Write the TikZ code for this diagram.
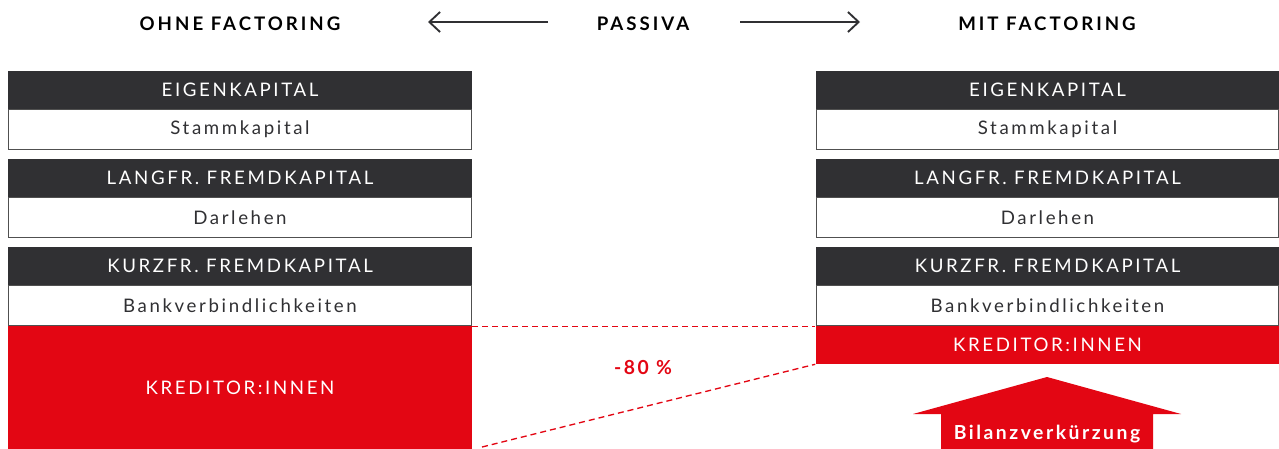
\documentclass[tikz,border=0pt]{standalone}
\usepackage{fontspec}
\setmainfont{Lato}
\newfontfamily\boxfont[LetterSpace=14]{Lato}
\newfontfamily\headfont[LetterSpace=16]{Lato}
\newfontfamily\tagfont[LetterSpace=13]{Lato}
\usetikzlibrary{arrows.meta}
\definecolor{dark}{HTML}{303033}
\definecolor{brand}{HTML}{E30613}
\definecolor{frame}{HTML}{505050}
\tikzset{
  hdr/.style={fill=dark, text=white, minimum width=348pt, minimum height=28.5pt, inner sep=0pt, font=\boxfont\fontsize{14}{16}\selectfont},
  body/.style={draw=frame, line width=0.6pt, fill=white, text=dark, minimum width=347pt, minimum height=30.2pt, inner sep=0pt, font=\boxfont\fontsize{14}{16}\selectfont},
  credit/.style={fill=brand, text=white, minimum width=348pt, inner sep=0pt, font=\boxfont\fontsize{14}{16}\selectfont},
  title/.style={text=black, inner sep=0pt, font=\headfont\bfseries\fontsize{14}{16}\selectfont},
  sidearrow/.style={draw=dark, line width=1.4pt, -{Straight Barb[length=8pt,width=15pt,line width=1.4pt]}},
  cut/.style={draw=brand, line width=1pt, dash pattern=on 4.5pt off 3pt},
}
\begin{document}
\begin{tikzpicture}[x=0.75pt, y=-0.75pt]
\useasboundingbox (0,0) rectangle (1279,449);

% headings
\node[title] (ohne) at (240,24) {OHNE FACTORING};
\node[title] (passiva) at (643,24) {PASSIVA};
\node[title] (mit) at (1047,24) {MIT FACTORING};
\coordinate (la) at (548,22);
\coordinate (lb) at (428,22);
\coordinate (ra) at (740,22);
\coordinate (rb) at (860,22);
\draw[sidearrow] (la) -- (lb);
\draw[sidearrow] (ra) -- (rb);

% left balance sheet
\node[hdr]  (lek)  at (240,90)    {EIGENKAPITAL};
\node[body] (lsk)  at (240,129.5) {Stammkapital};
\node[hdr]  (llf)  at (240,178)   {LANGFR. FREMDKAPITAL};
\node[body] (ldl)  at (240,217.5) {Darlehen};
\node[hdr]  (lkf)  at (240,266)   {KURZFR. FREMDKAPITAL};
\node[body] (lbv)  at (240,305.5) {Bankverbindlichkeiten};
\node[credit, minimum height=92.25pt] (lkr) at (240,387.5) {KREDITOR:INNEN};

% right balance sheet
\node[hdr]  (rek)  at (1047.5,90)    {EIGENKAPITAL};
\node[body] (rsk)  at (1047.5,129.5) {Stammkapital};
\node[hdr]  (rlf)  at (1047.5,178)   {LANGFR. FREMDKAPITAL};
\node[body] (rdl)  at (1047.5,217.5) {Darlehen};
\node[hdr]  (rkf)  at (1047.5,266)   {KURZFR. FREMDKAPITAL};
\node[body] (rbv)  at (1047.5,305.5) {Bankverbindlichkeiten};
\node[credit, minimum height=28.5pt] (rkr) at (1047.5,345) {KREDITOR:INNEN};

% reduction lines
\coordinate (low) at (482,447);
\draw[cut] ([yshift=-0.6pt]lkr.north east) -- ([yshift=-0.6pt]rkr.north west);
\draw[cut] (low) -- (rkr.south west);
\node[text=brand, inner sep=0pt, font=\tagfont\bfseries\fontsize{14.5}{16}\selectfont] (pct) at (643,368) {-80 \%};

% block arrow
\fill[brand] (1047,377) -- (1181,414) -- (1153,414) -- (1153,449)
  -- (941,449) -- (941,414) -- (913,414) -- cycle;
\node[text=white, inner sep=0pt, font=\tagfont\bfseries\fontsize{14.5}{16}\selectfont] (bv) at (1047,434) {Bilanzverkürzung};
\end{tikzpicture}
\end{document}
